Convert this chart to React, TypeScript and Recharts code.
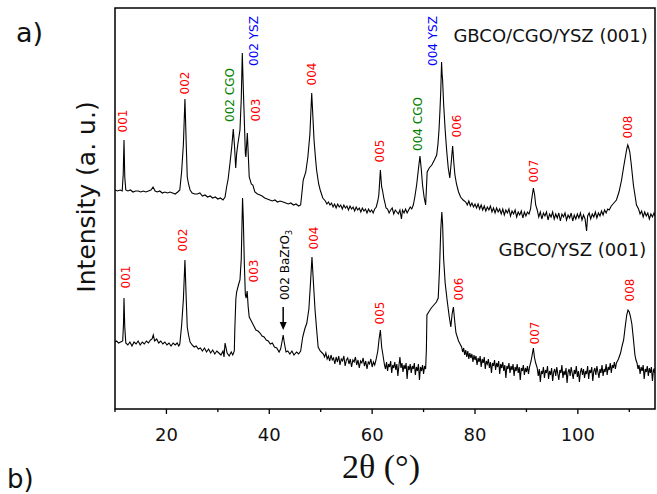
import React from "react";
import { LineChart, Line, XAxis, YAxis, ReferenceArea, ReferenceDot } from "recharts";

// 2theta (deg) / intensity (a.u., arbitrary offset units)
const topScan: [number, number][] = [
  [10, 219], [10.5, 218], [11, 219], [11.4, 218], [11.6, 235], [11.75, 269], [11.9, 232], [12.1, 219],
  [12.5, 218], [13, 219], [13.5, 217], [14, 218], [14.5, 218], [15, 217], [15.5, 218], [16, 217],
  [16.5, 218], [17, 219], [17.4, 222], [17.8, 218], [18.2, 217], [18.7, 218], [19.2, 216], [19.7, 217],
  [20.2, 216], [20.7, 217], [21.2, 216], [21.7, 215], [22.2, 217], [22.6, 219], [22.95, 237], [23.3, 265],
  [23.6, 310], [23.85, 265], [24.05, 232], [24.3, 225], [24.6, 219], [25, 216], [25.5, 215], [26, 215],
  [26.5, 216], [27, 213], [27.5, 214], [28, 212], [28.5, 213], [29, 211], [29.5, 212], [30, 210],
  [30.5, 211], [31, 209], [31.4, 212], [31.7, 222], [32, 230], [32.36, 246], [32.7, 262], [33, 280],
  [33.25, 262], [33.47, 241], [33.65, 255], [33.86, 264], [34.3, 279], [34.55, 310], [34.75, 356], [34.95, 320],
  [35.1, 296], [35.35, 255], [35.45, 252], [35.73, 276], [35.95, 250], [36.1, 232], [36.5, 225], [36.8, 224],
  [37.2, 217], [37.7, 215], [38.2, 214], [38.6, 213], [39.1, 211], [39.6, 210], [40.1, 209], [40.6, 208],
  [41.1, 209], [41.6, 207], [42.1, 208], [42.7, 207], [43.2, 206], [43.7, 205], [44.2, 206], [44.7, 204],
  [45.2, 205], [45.7, 203], [46.1, 204], [46.4, 219], [46.6, 229], [47.1, 237], [47.5, 252], [47.9, 275],
  [48.25, 316], [48.5, 290], [48.7, 269], [49, 250], [49.2, 239], [49.6, 225], [49.9, 219], [50.4, 211],
  [50.9, 208], [51.2, 205], [51.5, 207], [51.8, 204], [52.1, 206], [52.4, 202], [52.7, 205], [53.0, 201],
  [53.3, 205], [53.6, 202], [53.9, 204], [54.2, 200], [54.5, 204], [54.8, 201], [55.1, 203], [55.4, 199],
  [55.7, 203], [56.0, 200], [56.3, 202], [56.6, 198], [56.9, 202], [57.2, 199], [57.5, 201], [57.8, 197],
  [58.1, 201], [58.4, 198], [58.7, 200], [59.0, 196], [59.3, 200], [59.6, 197], [59.9, 199], [60.2, 196],
  [60.5, 200], [60.8, 202], [61.1, 208], [61.3, 214], [61.6, 239], [61.85, 222], [62, 219], [62.3, 210],
  [62.5, 206], [62.7, 201], [63, 200], [63.3, 196], [63.6, 199], [63.9, 201], [64.2, 195], [64.5, 199],
  [64.8, 197], [65.1, 195], [65.4, 199], [65.7, 190], [65.9, 199], [66.2, 196], [66.5, 200], [66.8, 196],
  [67.1, 199], [67.4, 202], [67.7, 200], [68, 204], [68.3, 212], [68.65, 224], [69, 240], [69.3, 253],
  [69.55, 240], [69.8, 224], [70.1, 212], [70.4, 204], [70.55, 220], [70.7, 237], [71.1, 241], [71.6, 244],
  [72.1, 249], [72.55, 254], [72.8, 265], [73, 279], [73.2, 300], [73.35, 319], [73.5, 347], [73.6, 335],
  [73.7, 329], [73.9, 305], [74.2, 279], [74.5, 258], [74.8, 241], [75.1, 231], [75.35, 245], [75.65, 263],
  [75.9, 245], [76.1, 234], [76.4, 225], [76.8, 217], [77.2, 212], [77.7, 209], [78.2, 207], [78.5, 204],
  [78.8, 208], [79.1, 203], [79.4, 206], [79.7, 202], [80.0, 205], [80.3, 201], [80.6, 205], [80.9, 200],
  [81.2, 204], [81.5, 199], [81.8, 203], [82.1, 198], [82.4, 202], [82.7, 199], [83.0, 203], [83.3, 197],
  [83.6, 201], [83.9, 196], [84.2, 201], [84.5, 197], [84.8, 200], [85.1, 195], [85.4, 200], [85.7, 194],
  [86.0, 199], [86.3, 196], [86.6, 200], [86.9, 193], [87.2, 198], [87.5, 195], [87.8, 199], [88.1, 192],
  [88.4, 197], [88.7, 194], [89.0, 198], [89.3, 191], [89.6, 197], [89.9, 193], [90.2, 197], [90.5, 195],
  [90.8, 200], [91, 209], [91.35, 221], [91.6, 214], [91.8, 204], [92.1, 199], [92.4, 192], [92.7, 197],
  [93.0, 190], [93.3, 196], [93.6, 193], [93.9, 197], [94.2, 189], [94.5, 195], [94.8, 192], [95.1, 197],
  [95.4, 190], [95.7, 195], [96.0, 191], [96.3, 196], [96.6, 188], [96.9, 195], [97.2, 192], [97.5, 196],
  [97.8, 189], [98.1, 194], [98.4, 191], [98.7, 196], [99.0, 188], [99.3, 194], [99.6, 190], [99.9, 195],
  [100.2, 191], [100.5, 196], [100.8, 189], [101.1, 194], [101.4, 190], [101.7, 178], [101.9, 193], [102.2, 196],
  [102.5, 190], [102.8, 195], [103.1, 192], [103.4, 197], [103.7, 191], [104.0, 196], [104.3, 193], [104.6, 198],
  [104.9, 194], [105.2, 199], [105.5, 196], [105.8, 200], [106.1, 199], [106.5, 203], [107, 206], [107.5, 209],
  [108, 217], [108.5, 229], [108.9, 242], [109.2, 251], [109.5, 260], [109.7, 264], [109.9, 261], [110.1, 257],
  [110.4, 244], [110.8, 224], [111.1, 214], [111.4, 204], [111.8, 200], [112.1, 195], [112.4, 198], [112.7, 192],
  [113.0, 197], [113.3, 193], [113.6, 196], [113.9, 190], [114.2, 195], [114.5, 192], [114.8, 196], [115, 193],
];

const bottomScan: [number, number][] = [
  [10, 67], [10.3, 68], [10.7, 66], [11.1, 67], [11.5, 68], [11.65, 85], [11.75, 111], [11.9, 82],
  [12.1, 66], [12.5, 64], [12.9, 67], [13.3, 63], [13.7, 67], [14.1, 65], [14.5, 68], [14.9, 64],
  [15.3, 67], [15.7, 65], [16.1, 68], [16.5, 66], [16.9, 69], [17.2, 70], [17.45, 74], [17.7, 68],
  [18.1, 70], [18.5, 66], [18.9, 68], [19.3, 65], [19.7, 67], [20.1, 64], [20.5, 66], [20.9, 63],
  [21.3, 66], [21.7, 64], [22.1, 66], [22.4, 63], [22.6, 65], [22.96, 84], [23.3, 110], [23.6, 149],
  [23.85, 110], [24.05, 82], [24.3, 74], [24.6, 67], [25, 64], [25.4, 62], [25.8, 63], [26.2, 60],
  [26.6, 61], [27, 58], [27.4, 61], [27.8, 57], [28.2, 60], [28.6, 56], [29, 59], [29.4, 55],
  [29.8, 58], [30.2, 56], [30.6, 54], [31, 58], [31.2, 52], [31.4, 66], [31.8, 56], [32.2, 53],
  [32.6, 57], [32.9, 54], [33.2, 58], [33.3, 80], [33.5, 110], [33.65, 117], [34, 124], [34.3, 129],
  [34.55, 150], [34.8, 211], [34.95, 190], [35.15, 145], [35.35, 114], [35.5, 111], [35.7, 118], [35.9, 102],
  [36.1, 92], [36.6, 87], [37, 83], [37.4, 79], [37.8, 78], [38.2, 76], [38.6, 73], [39, 72],
  [39.4, 69], [39.8, 68], [40.2, 65], [40.6, 66], [41, 62], [41.45, 61], [41.9, 57], [42.2, 60],
  [42.5, 68], [42.7, 74], [42.9, 67], [43.25, 57], [43.6, 58], [44, 55], [44.4, 58], [44.8, 54],
  [45.3, 57], [45.7, 55], [46.1, 58], [46.5, 72], [46.9, 80], [47.3, 86], [47.7, 100], [48, 125],
  [48.3, 152], [48.6, 125], [48.9, 99], [49.2, 80], [49.5, 62], [49.9, 58], [50.3, 56], [50.5, 55],
  [50.75, 52], [51, 56], [51.25, 50], [51.5, 53], [51.75, 48], [52, 54], [52.25, 49], [52.5, 51],
  [52.75, 45], [53, 52], [53.25, 47], [53.5, 53], [53.75, 44], [54, 50], [54.25, 48], [54.5, 53],
  [54.75, 43], [55, 49], [55.25, 51], [55.5, 45], [55.75, 50], [56, 42], [56.25, 49], [56.5, 47],
  [56.75, 52], [57, 44], [57.25, 49], [57.5, 41], [57.75, 48], [58, 46], [58.25, 51], [58.5, 43],
  [58.75, 48], [59, 40], [59.25, 47], [59.5, 45], [59.75, 50], [60, 42], [60.25, 47], [60.5, 44],
  [60.75, 49], [61.1, 58], [61.35, 70], [61.6, 79], [61.85, 62], [62.1, 54], [62.4, 44], [62.6, 40],
  [62.8, 47], [63, 38], [63.2, 45], [63.4, 42], [63.6, 48], [63.8, 36], [64, 44], [64.2, 41],
  [64.4, 47], [64.6, 39], [64.8, 45], [65, 33], [65.2, 43], [65.4, 52], [65.6, 41], [65.8, 46],
  [66, 37], [66.2, 44], [66.4, 40], [66.6, 46], [66.8, 30], [67, 43], [67.2, 39], [67.4, 45],
  [67.6, 36], [67.8, 43], [68, 40], [68.2, 46], [68.4, 34], [68.6, 42], [68.8, 38], [69, 45],
  [69.2, 29], [69.4, 42], [69.6, 38], [69.8, 44], [70, 35], [70.2, 43], [70.4, 40], [70.55, 60],
  [70.65, 94], [71, 97], [71.5, 101], [72, 104], [72.5, 107], [72.85, 111], [73.1, 140], [73.35, 180],
  [73.55, 197], [73.7, 185], [73.9, 150], [74.2, 126], [74.6, 108], [75, 92], [75.3, 82], [75.55, 95],
  [75.8, 102], [76.05, 88], [76.3, 76], [76.8, 68], [77.1, 65], [77.4, 62], [77.6, 57], [77.8, 61],
  [78, 54], [78.2, 59], [78.4, 52], [78.6, 58], [78.8, 50], [79, 56], [79.2, 51], [79.4, 55],
  [79.6, 47], [79.8, 54], [80, 49], [80.2, 53], [80.4, 44], [80.6, 51], [80.8, 47], [81, 53],
  [81.2, 42], [81.4, 50], [81.6, 46], [81.8, 52], [82, 40], [82.2, 48], [82.4, 45], [82.6, 50],
  [82.8, 41], [83, 47], [83.2, 36], [83.4, 46], [83.6, 43], [83.8, 49], [84, 39], [84.2, 46],
  [84.4, 42], [84.6, 48], [84.8, 35], [85, 45], [85.2, 41], [85.4, 47], [85.6, 38], [85.8, 44],
  [86, 31], [86.2, 43], [86.4, 40], [86.6, 46], [86.8, 36], [87, 43], [87.2, 39], [87.4, 45],
  [87.6, 33], [87.8, 42], [88, 38], [88.2, 45], [88.4, 36], [88.6, 42], [88.8, 29], [89, 41],
  [89.2, 38], [89.4, 44], [89.6, 34], [89.8, 41], [90, 37], [90.2, 43], [90.4, 35], [90.6, 42],
  [90.9, 48], [91.15, 55], [91.35, 61], [91.55, 52], [91.8, 46], [92.1, 41], [92.3, 33], [92.5, 40],
  [92.7, 27], [92.9, 38], [93.1, 35], [93.3, 42], [93.5, 31], [93.7, 39], [93.9, 36], [94.1, 43],
  [94.3, 30], [94.5, 38], [94.7, 34], [94.9, 41], [95.1, 28], [95.3, 37], [95.5, 40], [95.7, 33],
  [95.9, 42], [96.1, 35], [96.3, 29], [96.5, 39], [96.7, 36], [96.9, 44], [97.1, 31], [97.3, 38],
  [97.5, 34], [97.7, 41], [97.9, 26], [98.1, 37], [98.3, 40], [98.5, 33], [98.7, 42], [98.9, 36],
  [99.1, 30], [99.3, 39], [99.5, 35], [99.7, 43], [99.9, 32], [100.1, 38], [100.3, 27], [100.5, 37],
  [100.7, 41], [100.9, 34], [101.1, 40], [101.3, 31], [101.5, 38], [101.7, 35], [101.9, 43], [102.1, 30],
  [102.3, 39], [102.5, 36], [102.7, 42], [102.9, 28], [103.1, 38], [103.3, 41], [103.5, 34], [103.7, 43],
  [103.9, 37], [104.1, 31], [104.3, 40], [104.5, 36], [104.7, 44], [104.9, 33], [105.1, 40], [105.3, 37],
  [105.5, 45], [105.7, 34], [105.9, 42], [106.1, 39], [106.3, 46], [106.5, 36], [106.7, 44], [106.9, 41],
  [107.1, 47], [107.3, 40], [107.5, 46], [107.7, 48], [107.9, 50], [108.3, 56], [108.6, 63], [108.9, 69],
  [109.2, 82], [109.5, 94], [109.75, 99], [110, 97], [110.25, 92], [110.5, 85], [110.8, 70], [111.1, 54],
  [111.3, 49], [111.5, 46], [111.7, 40], [111.9, 44], [112.1, 35], [112.3, 42], [112.5, 38], [112.7, 44],
  [112.9, 30], [113.1, 40], [113.3, 37], [113.5, 43], [113.7, 33], [113.9, 41], [114.1, 36], [114.3, 42],
  [114.5, 28], [114.7, 39], [114.9, 37], [115, 41],
];

const xTicks = [10, 20, 30, 40, 50, 60, 70, 80, 90, 100, 110];
const xLabelled = [20, 40, 60, 80, 100];

// peak annotations: position (2theta, intensity), text, colour
const RED = "#ff0000";
const GREEN = "#008000";
const BLUE = "#0000ff";
const peakLabels = [
  { t: 11.65, i: 288, text: "001", color: RED },
  { t: 23.6, i: 326, text: "002", color: RED },
  { t: 32.4, i: 314, text: "002 CGO", color: GREEN },
  { t: 37.0, i: 368, text: "002 YSZ", color: BLUE },
  { t: 37.5, i: 299, text: "003", color: RED },
  { t: 48.4, i: 335, text: "004", color: RED },
  { t: 61.5, i: 258, text: "005", color: RED },
  { t: 69.0, i: 285, text: "004 CGO", color: GREEN },
  { t: 71.75, i: 368, text: "004 YSZ", color: BLUE },
  { t: 76.5, i: 283, text: "006", color: RED },
  { t: 91.5, i: 238, text: "007", color: RED },
  { t: 109.75, i: 282, text: "008", color: RED },
  { t: 12.15, i: 132, text: "001", color: RED },
  { t: 23.3, i: 169, text: "002", color: RED },
  { t: 37.0, i: 138, text: "003", color: RED },
  { t: 48.6, i: 171, text: "004", color: RED },
  { t: 61.5, i: 96, text: "005", color: RED },
  { t: 76.9, i: 120, text: "006", color: RED },
  { t: 91.7, i: 76, text: "007", color: RED },
  { t: 110.1, i: 119, text: "008", color: RED },
];
const bazro = { t: 42.7, i: 79, labelI: 144 };
const sampleNames = [
  { t: 113.6, i: 374, text: "GBCO/CGO/YSZ (001)" },
  { t: 113.3, i: 160, text: "GBCO/YSZ (001)" },
];

const toRows = (s: [number, number][]) => s.map(([t, i]) => ({ t, i }));
const FONT = "'DejaVu Sans', Verdana, sans-serif";

function AxisTick(props: any) {
  const { x, y, payload } = props;
  const major = xLabelled.includes(payload.value);
  return (
    <g>
      <line x1={x} x2={x} y1={y} y2={y + (major ? 5 : 3)} stroke="#000" strokeWidth={1.3} />
      {major && (
        <text x={x} y={y + 32} textAnchor="middle" fontFamily={FONT} fontSize={18} fill="#111">
          {payload.value}
        </text>
      )}
    </g>
  );
}

export default function App() {
  return (
    <div style={{ position: "absolute", left: 0, top: 0, width: 657, height: 494, background: "#fff" }}>
      <LineChart width={657} height={494} margin={{ top: 8, right: 2, bottom: 55, left: 115 }}>
        <XAxis
          dataKey="t"
          type="number"
          domain={[10, 115]}
          allowDataOverflow
          ticks={xTicks}
          tick={<AxisTick />}
          tickLine={false}
          axisLine={false}
          tickSize={0}
          tickMargin={0}
          height={30}
          interval={0}
        />
        <YAxis hide type="number" domain={[0, 401]} allowDataOverflow />
        <ReferenceArea x1={10} x2={115} y1={0} y2={401} fill="none" stroke="#000" strokeWidth={1.5} fillOpacity={0} />
        <Line data={toRows(topScan)} dataKey="i" type="linear" stroke="#000" strokeWidth={1.1} dot={false} isAnimationActive={false} />
        <Line data={toRows(bottomScan)} dataKey="i" type="linear" stroke="#000" strokeWidth={1.1} dot={false} isAnimationActive={false} />
        {peakLabels.map((p, k) => (
          <ReferenceDot
            key={k}
            x={p.t}
            y={p.i}
            r={0}
            shape={(s: any) => (
              <text
                x={s.cx}
                y={s.cy}
                transform={`rotate(-90 ${s.cx} ${s.cy})`}
                textAnchor="middle"
                dominantBaseline="central"
                fontFamily={FONT}
                fontSize={12}
                fill={p.color}
              >
                {p.text}
              </text>
            )}
          />
        ))}
        <ReferenceDot
          x={bazro.t}
          y={bazro.labelI}
          r={0}
          shape={(s: any) => (
            <text
              x={s.cx}
              y={s.cy}
              transform={`rotate(-90 ${s.cx} ${s.cy})`}
              textAnchor="middle"
              dominantBaseline="central"
              fontFamily={FONT}
              fontSize={12}
              fill="#000"
              dy={2}
            >
              002 BaZrO
              <tspan fontSize={8} dy={4}>3</tspan>
            </text>
          )}
        />
        <ReferenceDot
          x={bazro.t}
          y={bazro.i}
          r={0}
          shape={(s: any) => (
            <g>
              <line x1={s.cx} x2={s.cx} y1={s.cy - 23} y2={s.cy - 6} stroke="#000" strokeWidth={1.5} />
              <path d={`M${s.cx - 3.5},${s.cy - 8} L${s.cx + 3.5},${s.cy - 8} L${s.cx},${s.cy} Z`} fill="#000" />
            </g>
          )}
        />
        {sampleNames.map((n, k) => (
          <ReferenceDot
            key={"n" + k}
            x={n.t}
            y={n.i}
            r={0}
            shape={(s: any) => (
              <text x={s.cx} y={s.cy} textAnchor="end" dominantBaseline="central" fontFamily={FONT} fontSize={18} fill="#111">
                {n.text}
              </text>
            )}
          />
        ))}
      </LineChart>
      <svg width={657} height={494} style={{ position: "absolute", left: 0, top: 0, pointerEvents: "none" }}>
        <text x={16} y={42} fontFamily={FONT} fontSize={27} fill="#111">a)</text>
        <text x={7} y={488} fontFamily={FONT} fontSize={26} fill="#111">b)</text>
        <text
          x={86}
          y={197}
          transform="rotate(-90 86 197)"
          textAnchor="middle"
          dominantBaseline="central"
          fontFamily={FONT}
          fontSize={25}
          fill="#111"
        >
          Intensity (a. u.)
        </text>
        <text x={381} y={478} textAnchor="middle" fontFamily="'Liberation Serif', 'Times New Roman', serif" fontSize={34} fill="#111">
          2θ (°)
        </text>
      </svg>
    </div>
  );
}
